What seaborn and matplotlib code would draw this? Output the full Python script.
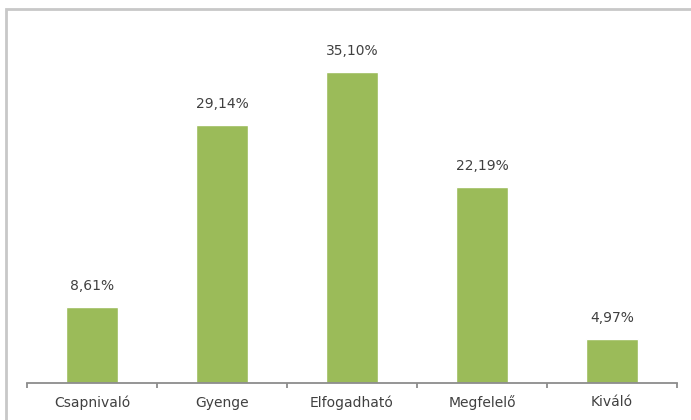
import matplotlib
matplotlib.use("Agg")
import matplotlib.pyplot as plt
import seaborn as sns
import pandas as pd
from matplotlib.patches import Rectangle
from matplotlib.ticker import FixedLocator

categories = ["Csapnivaló", "Gyenge", "Elfogadható", "Megfelelő", "Kiváló"]
values = [8.61, 29.14, 35.10, 22.19, 4.97]
labels = ["8,61%", "29,14%", "35,10%", "22,19%", "4,97%"]

sns.set_theme(style="white")
plt.rcParams["font.family"] = ["DejaVu Sans"]

df = pd.DataFrame({"cat": categories, "val": values})

fig = plt.figure(figsize=(6.91, 4.20), dpi=100)
ax = fig.add_axes([27 / 691, 37 / 420, 650 / 691, 354 / 420])

sns.barplot(data=df, x="cat", y="val", color="#9BBB59", saturation=1,
            width=0.4, ax=ax)

ax.set_xlim(-0.5, len(categories) - 0.5)
ax.set_ylim(0, 40)
ax.set_xlabel("")
ax.set_ylabel("")
ax.set_yticks([])
for s in ["top", "right", "left"]:
    ax.spines[s].set_visible(False)
ax.spines["bottom"].set_color("#8c8c8c")
ax.spines["bottom"].set_linewidth(1.3)

ax.tick_params(axis="x", which="major", length=0, pad=9,
               labelsize=10, labelcolor="#404040")
ax.xaxis.set_minor_locator(FixedLocator([i - 0.5 for i in range(len(categories) + 1)]))
ax.tick_params(axis="x", which="minor", length=3.5, width=1.3,
               color="#8c8c8c", direction="out", bottom=True)

for i, (v, lab) in enumerate(zip(values, labels)):
    ax.annotate(lab, (i, v), xytext=(0, 10), textcoords="offset points",
                ha="center", va="bottom", fontsize=10, color="#404040")

frame = Rectangle((6 / 691, -0.5), 2.0, (420 - 9) / 420 + 0.5,
                  transform=fig.transFigure, fill=False,
                  edgecolor="#c8c8c8", linewidth=2, clip_on=False)
fig.patches.append(frame)

fig.savefig("out.png", dpi=100)
